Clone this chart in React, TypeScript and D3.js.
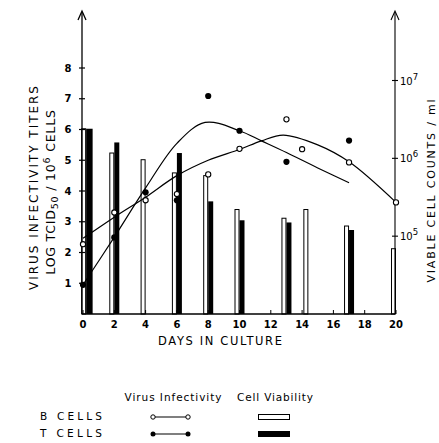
import React from 'react';
import * as d3 from 'd3';

// virus infectivity, log TCID50 / 10^6 cells (left axis)
const bDays = [0, 2, 4, 6, 8, 10, 13, 14, 17, 20];
const bVirus = [2.27, 3.3, 3.7, 3.9, 4.54, 5.37, 6.33, 5.36, 4.93, 3.63];
const tDays = [0, 2, 4, 6, 8, 10, 13, 17];
const tVirus = [0.95, 2.49, 3.96, 3.7, 7.09, 5.96, 4.95, 5.64];

// hand-drawn fit curves through the points
const bFitDays = [0, 2, 4, 6, 8, 10, 11.4, 12.8, 15, 17, 20];
const bFit = [2.46, 3.15, 3.8, 4.5, 5.0, 5.35, 5.63, 5.82, 5.5, 4.95, 3.63];
const tFitDays = [0, 2, 4, 6, 7.8, 10, 11.4, 13, 15, 17];
const tFit = [0.95, 2.5, 4.1, 5.55, 6.23, 5.96, 5.63, 5.25, 4.75, 4.27];

// cell viability, viable cells / ml (right axis)
const bBarDays = [0.2, 2, 4, 6, 8, 10, 13, 14.4, 17, 20];
const bCounts = [2.4e6, 1.17e6, 9.6e5, 6.5e5, 6.0e5, 2.2e5, 1.7e5, 2.2e5, 1.35e5, 6.9e4];
const tBarDays = [0.2, 2, 6, 8, 10, 13, 17];
const tCounts = [2.4e6, 1.6e6, 1.17e6, 2.8e5, 1.6e5, 1.5e5, 1.2e5];

const xTicks = [0, 2, 4, 6, 8, 10, 12, 14, 16, 18, 20];
const yTicks = [1, 2, 3, 4, 5, 6, 7, 8];
const rTicks = [1e5, 1e6, 1e7];
const rExp = ['5', '6', '7'];

const font = "'DejaVu Sans', sans-serif";

export default function App() {
  const x = d3.scaleLinear().domain([0, 20]).range([83, 396]);
  const y = d3.scaleLinear().domain([0, 8]).range([314, 68]);
  const yr = d3.scaleLog().domain([1e4, 1e7]).range([314, 80.5]);

  const leftX = 82;
  const rightX = 395;
  const base = y(0);

  const curve = (ds: number[], vs: number[]) =>
    d3.line<number>()
      .x((d, i) => x(ds[i]))
      .y(d => y(d))
      .curve(d3.curveCatmullRom.alpha(0.5))(vs) as string;

  const barW = 5;

  return (
    <svg width={439} height={443} style={{ position: 'absolute', left: 0, top: 0, background: '#fff' }}
      fontFamily={font}>
      {/* bars: cell viability */}
      {bBarDays.map((d, i) => (
        <rect key={'b' + i} x={x(d) - barW + 0.5} y={yr(bCounts[i])} width={barW - 1}
          height={base - yr(bCounts[i])} fill="#fff" stroke="#000" strokeWidth={1} />
      ))}
      {tBarDays.map((d, i) => (
        <rect key={'t' + i} x={x(d)} y={yr(tCounts[i])} width={d === 0.2 ? 6.5 : barW}
          height={base - yr(tCounts[i])} fill="#000" />
      ))}

      {/* axes */}
      <line x1={leftX} y1={base} x2={rightX} y2={base} stroke="#000" strokeWidth={1.3} />
      <line x1={leftX} y1={base} x2={leftX} y2={12} stroke="#000" strokeWidth={1.3} />
      <line x1={rightX} y1={base} x2={rightX} y2={12} stroke="#000" strokeWidth={1.1} />
      <path d={`M${leftX - 4},20 L${leftX},11 L${leftX + 4},20`} fill="none" stroke="#000" strokeWidth={1.3} />
      <path d={`M${rightX - 4},20 L${rightX},11 L${rightX + 4},20`} fill="none" stroke="#000" strokeWidth={1.1} />

      {yTicks.map(t => (
        <g key={'yt' + t}>
          <line x1={leftX - 3} x2={leftX + 3} y1={y(t)} y2={y(t)} stroke="#000" strokeWidth={1.2} />
          <text x={68} y={y(t) + 3.5} fontSize={10} fontWeight="bold" textAnchor="middle">{t}</text>
        </g>
      ))}
      {rTicks.map((t, i) => (
        <g key={'rt' + t}>
          <line x1={rightX - 3} x2={rightX + 3} y1={yr(t)} y2={yr(t)} stroke="#000" strokeWidth={1.1} />
          <text x={400} y={yr(t) + 4} fontSize={10}>
            <tspan>10</tspan>
            <tspan dy={-5} fontSize={8.5}>{rExp[i]}</tspan>
          </text>
        </g>
      ))}
      {xTicks.map(t => (
        <g key={'xt' + t}>
          <line x1={x(t)} x2={x(t)} y1={base - 4} y2={base} stroke="#000" strokeWidth={1} />
          <text x={x(t)} y={328} fontSize={10} fontWeight="bold" textAnchor="middle">{t}</text>
        </g>
      ))}

      {/* fitted curves */}
      <path d={curve(bFitDays, bFit)} fill="none" stroke="#000" strokeWidth={1.2} />
      <path d={curve(tFitDays, tFit)} fill="none" stroke="#000" strokeWidth={1.2} />

      {/* points */}
      {bDays.map((d, i) => (
        <circle key={'bc' + i} cx={x(d)} cy={y(bVirus[i])} r={2.6} fill="#fff" stroke="#000" strokeWidth={1.1} />
      ))}
      {tDays.map((d, i) => (
        <circle key={'tc' + i} cx={x(d)} cy={y(tVirus[i])} r={3.1} fill="#000" />
      ))}

      {/* axis titles */}
      <text x={220} y={345} fontSize={11.5} textAnchor="middle" textLength={124}
        lengthAdjust="spacing">DAYS IN CULTURE</text>
      <text transform="translate(38,188) rotate(-90)" fontSize={12} textAnchor="middle"
        textLength={204} lengthAdjust="spacing">VIRUS INFECTIVITY TITERS</text>
      <text transform="translate(55,192) rotate(-90)" fontSize={12.5} textAnchor="middle" letterSpacing={0.8}>
        <tspan>LOG  TCID</tspan>
        <tspan dy={3} fontSize={9.5}>50</tspan>
        <tspan dy={-3}> / 10</tspan>
        <tspan dy={-5} fontSize={9.5}>6</tspan>
        <tspan dy={5}> CELLS</tspan>
      </text>
      <text transform="translate(435,191) rotate(-90)" fontSize={11} textAnchor="middle"
        textLength={183} lengthAdjust="spacing">VIABLE CELL COUNTS / ml</text>

      {/* legend */}
      <text x={173} y={401} fontSize={10.5} textAnchor="middle" textLength={97}
        lengthAdjust="spacing">Virus Infectivity</text>
      <text x={275} y={401} fontSize={10.5} textAnchor="middle" textLength={76}
        lengthAdjust="spacing">Cell Viability</text>
      <text x={40} y={420} fontSize={10.5} textLength={62} lengthAdjust="spacing">B CELLS</text>
      <text x={40} y={437} fontSize={10.5} textLength={62} lengthAdjust="spacing">T CELLS</text>
      <line x1={153} x2={188} y1={417} y2={417} stroke="#000" strokeWidth={1.1} />
      <circle cx={153} cy={417} r={2.2} fill="#fff" stroke="#000" strokeWidth={1} />
      <circle cx={188} cy={417} r={2.2} fill="#fff" stroke="#000" strokeWidth={1} />
      <line x1={153} x2={188} y1={434} y2={434} stroke="#000" strokeWidth={1.1} />
      <circle cx={153} cy={434} r={2.5} fill="#000" />
      <circle cx={188} cy={434} r={2.5} fill="#000" />
      <rect x={258.5} y={414.5} width={31} height={5} fill="#fff" stroke="#000" strokeWidth={1} />
      <rect x={258} y={431} width={32} height={6} fill="#000" />
    </svg>
  );
}
